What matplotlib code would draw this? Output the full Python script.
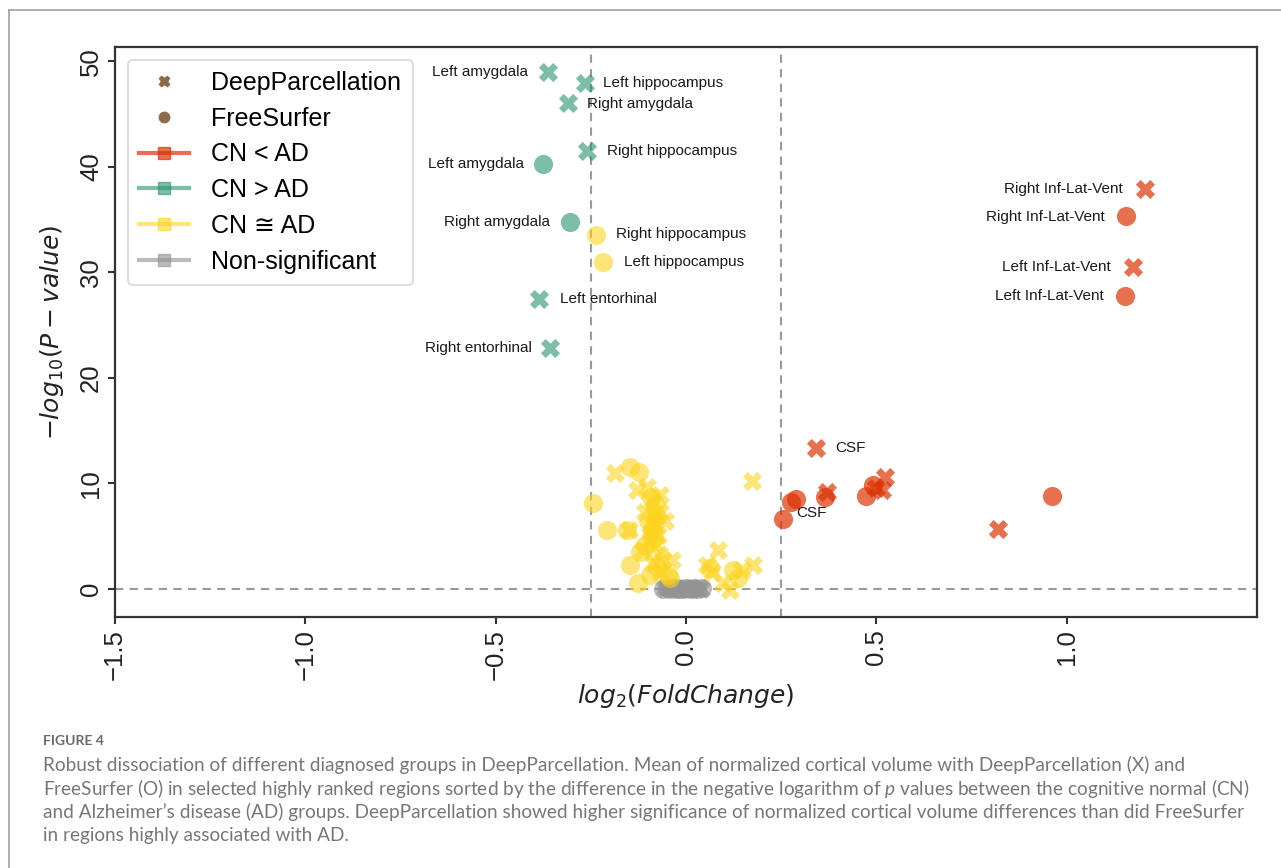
import matplotlib
matplotlib.use("Agg")
import matplotlib.pyplot as plt
from matplotlib.lines import Line2D

# ---------------- data ----------------
# CN < AD (red)
red_dp_x = [0.341, 1.205, 1.173, 0.371, 0.522, 0.514, 0.500, 0.820]
red_dp_y = [13.35, 37.9, 30.5, 9.14, 10.6, 9.4, 9.6, 5.66]
red_fs_x = [1.155, 1.152, 0.254, 0.277, 0.290, 0.365, 0.490, 0.474, 0.962]
red_fs_y = [35.3, 27.8, 6.64, 8.28, 8.5, 8.7, 9.87, 8.82, 8.82]

# CN > AD (teal)
teal_dp_x = [-0.362, -0.265, -0.310, -0.260, -0.386, -0.357]
teal_dp_y = [48.96, 47.9, 46.0, 41.5, 27.5, 22.8]
teal_fs_x = [-0.375, -0.304]
teal_fs_y = [40.3, 34.8]

# CN ~ AD (yellow)
yel_dp_x = [-0.186, -0.129, -0.103, -0.089, -0.151, -0.108, -0.081, -0.068, -0.055,
            -0.094, -0.112, -0.087, -0.060, -0.037, -0.068, 0.085, 0.054, 0.067,
            0.098, 0.115, 0.147, 0.177, 0.173, -0.068, -0.073, -0.078, -0.090,
            -0.095, -0.070, -0.082]
yel_dp_y = [11.0, 9.4, 9.7, 8.3, 5.6, 7.3, 7.0, 7.3, 6.4,
            4.6, 3.7, 2.5, 2.75, 2.75, 1.6, 3.7, 2.3, 1.6,
            0.55, -0.1, 1.8, 2.3, 10.2, 8.9, 5.1, 4.2, 6.2,
            5.2, 3.3, 6.0]
yel_fs_x = [-0.236, -0.218, -0.147, -0.123, -0.092, -0.243, -0.208, -0.156, -0.100,
            -0.089, -0.108, -0.121, -0.147, -0.125, -0.077, -0.047, -0.042, -0.094,
            0.063, 0.124, 0.137, -0.081, -0.085, -0.075]
yel_fs_y = [33.5, 31.0, 11.6, 11.1, 8.7, 8.1, 5.6, 5.6, 6.5,
            5.6, 4.2, 3.5, 2.3, 0.6, 2.1, 1.3, 1.0, 1.3,
            2.0, 1.8, 1.0, 8.0, 4.8, 6.8]

# Non-significant (gray)
gray_dp_x = [-0.055, -0.045, -0.035, -0.025, -0.015, -0.005, 0.005, 0.015, 0.025, 0.035, 0.040]
gray_dp_y = [0.05, 0.08, 0.04, 0.06, 0.03, 0.05, 0.02, 0.07, 0.04, 0.05, 0.03]
gray_fs_x = [-0.060, -0.050, -0.040, -0.030, -0.020, -0.010, 0.000, 0.010, 0.020, 0.030, 0.042]
gray_fs_y = [0.02, 0.06, 0.03, 0.07, 0.02, 0.04, 0.05, 0.03, 0.06, 0.02, 0.05]

# labelled regions: text, x, y
labels_text = ["Left amygdala", "Left hippocampus", "Right amygdala", "Right hippocampus",
               "Left amygdala", "Right amygdala", "Right hippocampus", "Left hippocampus",
               "Left entorhinal", "Right entorhinal",
               "Right Inf-Lat-Vent", "Right Inf-Lat-Vent", "Left Inf-Lat-Vent",
               "Left Inf-Lat-Vent", "CSF", "CSF"]
labels_x = [-0.362, -0.265, -0.310, -0.260, -0.375, -0.304, -0.236, -0.218, -0.386, -0.357,
            1.205, 1.155, 1.173, 1.152, 0.341, 0.254]
labels_y = [48.96, 47.9, 46.0, 41.5, 40.3, 34.8, 33.5, 31.0, 27.5, 22.8,
            37.9, 35.3, 30.5, 27.8, 13.35, 6.64]

xticks = [-1.5, -1.0, -0.5, 0.0, 0.5, 1.0]
yticks = [0, 10, 20, 30, 40, 50]
legend_labels = ["DeepParcellation", "FreeSurfer", "CN < AD", "CN > AD", "CN \u2245 AD", "Non-significant"]

caption_title = "FIGURE 4"
caption_lines = [
    "Robust dissociation of different diagnosed groups in DeepParcellation. Mean of normalized cortical volume with DeepParcellation (X) and",
    "FreeSurfer (O) in selected highly ranked regions sorted by the difference in the negative logarithm of $p$ values between the cognitive normal (CN)",
    "and Alzheimer\u2019s disease (AD) groups. DeepParcellation showed higher significance of normalized cortical volume differences than did FreeSurfer",
    "in regions highly associated with AD.",
]

# ---------------- style ----------------
RED = "#de3304"
TEAL = "#26936e"
YEL = "#fcd41e"
GRAY = "#939393"
BROWN = "#8c694b"
A_RED = 0.7
ALPHA = 0.6
MS = 190

plt.rcParams["font.family"] = ["Liberation Sans", "DejaVu Sans"]
plt.rcParams["mathtext.fontset"] = "dejavusans"
plt.rcParams["mathtext.it"] = "Lato:italic"
plt.rcParams["mathtext.rm"] = "Lato"

W, H = 1281, 868
fig = plt.figure(figsize=(W / 100, H / 100), dpi=100)
ax = fig.add_axes([115 / W, 1 - 617 / H, (1257 - 115) / W, (617 - 47) / H])

# reference lines
for xv in (-0.25, 0.25):
    ax.axvline(xv, color="#9a9a9a", ls=(0, (4, 3)), lw=1.5, zorder=1)
ax.axhline(0, color="#9a9a9a", ls=(0, (4, 3)), lw=1.5, zorder=1)

def sc(x, y, c, m, a=ALPHA):
    ax.scatter(x, y, s=MS, c=c, marker=m, alpha=a, linewidths=0, zorder=3)

sc(gray_fs_x, gray_fs_y, GRAY, "o")
sc(gray_dp_x, gray_dp_y, GRAY, "X")
sc(yel_fs_x, yel_fs_y, YEL, "o")
sc(yel_dp_x, yel_dp_y, YEL, "X")
sc(teal_fs_x, teal_fs_y, TEAL, "o")
sc(teal_dp_x, teal_dp_y, TEAL, "X")
sc(red_fs_x, red_fs_y, RED, "o", A_RED)
sc(red_dp_x, red_dp_y, RED, "X", A_RED)

# annotation offsets (pixels) and alignment
offs = [(-20, 0, "right"), (18, 0, "left"), (19, -1, "left"), (20, 0, "left"),
        (-19, 0, "right"), (-20, 0, "right"), (20, 1, "left"), (21, 0, "left"),
        (21, 0, "left"), (-18, 0, "right"),
        (-22, 0, "right"), (-21, -1, "right"), (-22, 0, "right"),
        (-21, 0, "right"), (19, 0, "left"), (14, 6, "left")]
for t, x, y, (dx, dy, ha) in zip(labels_text, labels_x, labels_y, offs):
    ax.annotate(t, (x, y), xytext=(dx, dy), textcoords="offset pixels",
                ha=ha, va="center", fontsize=11, color="#1a1a1a", zorder=5)

ax.set_xlim(-1.5, 1.5)
ax.set_ylim(-2.66, 51.35)
ax.set_xticks(xticks)
ax.set_yticks(yticks)
ax.set_xticklabels([f"{v:.1f}".replace("-", "\u2212") for v in xticks], rotation=90)
ax.set_yticklabels([str(v) for v in yticks], rotation=90, va="center")
ax.tick_params(axis="both", labelsize=18.5, length=5, width=1.5, color="#333333",
               labelcolor="#222222", direction="out")
for sp in ax.spines.values():
    sp.set_linewidth(1.6)
    sp.set_color("#333333")

ax.set_xlabel(r"$log_2(FoldChange)$", fontsize=18, color="#222222")
ax.set_ylabel(r"$-log_{10}(P-value)$", fontsize=18, color="#222222")
ax.xaxis.set_label_coords(0.5, -0.114)
ax.yaxis.set_label_coords(-0.043, 0.5)

handles = [
    Line2D([], [], color=BROWN, marker="X", ls="", markersize=7.5),
    Line2D([], [], color=BROWN, marker="o", ls="", markersize=7.5),
    Line2D([], [], color=RED, alpha=A_RED, marker="s", lw=3, markersize=9),
    Line2D([], [], color=TEAL, alpha=ALPHA, marker="s", lw=3, markersize=9),
    Line2D([], [], color=YEL, alpha=ALPHA, marker="s", lw=3, markersize=9),
    Line2D([], [], color="#8f8f8f", alpha=ALPHA, marker="s", lw=3, markersize=9),
]
leg = ax.legend(handles, legend_labels, loc="upper left", fontsize=18,
                handlelength=2.0, handletextpad=0.9, labelspacing=0.47,
                borderpad=0.45, borderaxespad=0.5, frameon=True, fancybox=True,
                framealpha=1)
leg.get_frame().set_edgecolor("#dddddd")
leg.get_frame().set_linewidth(1.5)

# outer border of the figure panel
fig.add_artist(Line2D([9 / W, 1.0], [1 - 10 / H, 1 - 10 / H], transform=fig.transFigure,
                      color="#a0a0a0", lw=1.2))
fig.add_artist(Line2D([9 / W, 9 / W], [1 - 10 / H, 0.0], transform=fig.transFigure,
                      color="#a0a0a0", lw=1.2))

# caption
fig.text(43 / W, 1 - 741 / H, caption_title, fontsize=10, fontweight="bold",
         color="#6a6a6a", family=["Lato", "DejaVu Sans"], va="center")
cap_texts = []
for i, line in enumerate(caption_lines):
    t = fig.text(43 / W, 1 - (765 + i * 23.5) / H, line, fontsize=12,
                 color="#777777", family=["Lato", "DejaVu Sans"], va="center",
                 math_fontfamily="custom")
    cap_texts.append(t)
fig.canvas.draw()
r = fig.canvas.get_renderer()
w0 = cap_texts[0].get_window_extent(r).width
fs = 12 * (1183 - 43) / w0
for t in cap_texts:
    t.set_fontsize(fs)

fig.savefig("out.png", dpi=100, facecolor="white")
